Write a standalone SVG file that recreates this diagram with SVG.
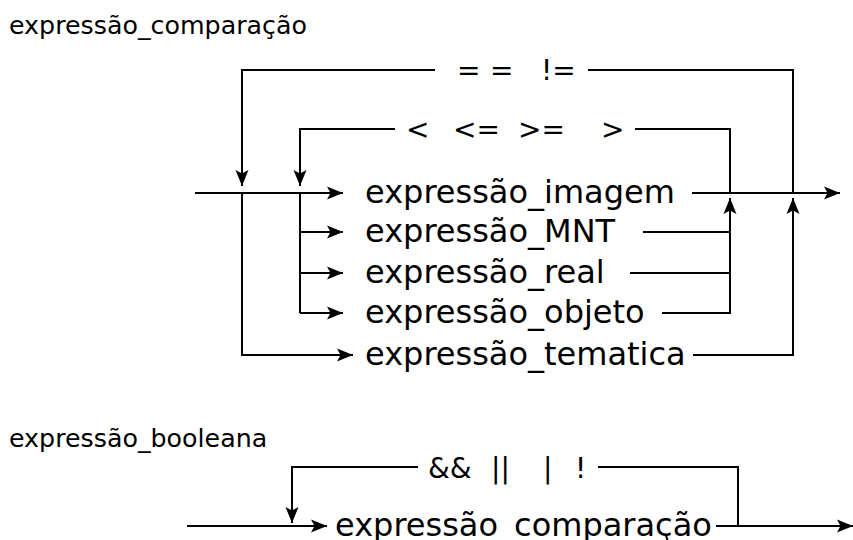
<svg xmlns="http://www.w3.org/2000/svg" width="853" height="540" viewBox="0 0 853 540">
<defs>
<marker id="ah" markerWidth="18" markerHeight="16" viewBox="-17 -8 18 16" refX="0" refY="0" orient="auto" markerUnits="userSpaceOnUse">
<path d="M0,0 L-16,-6.5 L-12.5,0 L-16,6.5 Z" fill="#000"/>
</marker>
</defs>
<style>
.t{font-family:"DejaVu Sans",sans-serif;fill:#000}
.title{font-size:25.3px}
.lbl{font-size:32px}
.op{font-size:28px}
.c{fill:none;stroke:#000;stroke-width:2}
</style>
<rect width="853" height="540" fill="#fff"/>
<g id="connectors">
<path class="c" d="M195,193 H343" marker-end="url(#ah)"/>
<path class="c" d="M793,193 V70 H588"/>
<path class="c" d="M435,70 H242 V186" marker-end="url(#ah)"/>
<path class="c" d="M730,193 V129 H635"/>
<path class="c" d="M395,129 H300 V186" marker-end="url(#ah)"/>
<path class="c" d="M300,193 V313"/>
<path class="c" d="M300,232 H343" marker-end="url(#ah)"/>
<path class="c" d="M300,273 H343" marker-end="url(#ah)"/>
<path class="c" d="M300,313 H343" marker-end="url(#ah)"/>
<path class="c" d="M242,193 V355 H353" marker-end="url(#ah)"/>
<path class="c" d="M692,193 H840" marker-end="url(#ah)"/>
<path class="c" d="M643,232 H730"/>
<path class="c" d="M630,273 H730"/>
<path class="c" d="M662,313 H730 V198" marker-end="url(#ah)"/>
<path class="c" d="M693,355 H793 V198" marker-end="url(#ah)"/>
<path class="c" d="M187,526 H327" marker-end="url(#ah)"/>
<path class="c" d="M738,526 V467 H598"/>
<path class="c" d="M418,467 H292 V523" marker-end="url(#ah)"/>
<path class="c" d="M716,526 H853" marker-end="url(#ah)"/>
</g>
<g id="title1"><text class="t title" x="9" y="34">expressão_comparação</text></g>
<g id="op_eq"><text class="t op" y="80"><tspan x="457">=</tspan><tspan x="490">=</tspan><tspan x="541">!=</tspan></text></g>
<g id="op_rel"><text class="t op" y="139"><tspan x="406">&lt;</tspan><tspan x="453">&lt;=</tspan><tspan x="518">&gt;=</tspan><tspan x="601">&gt;</tspan></text></g>
<g id="n_imagem"><text class="t lbl" x="365" y="203">expressão_imagem</text></g>
<g id="n_mnt"><text class="t lbl" x="365" y="242">expressão_MNT</text></g>
<g id="n_real"><text class="t lbl" x="365" y="283">expressão_real</text></g>
<g id="n_objeto"><text class="t lbl" x="365" y="323">expressão_objeto</text></g>
<g id="n_tematica"><text class="t lbl" x="365" y="365">expressão_tematica</text></g>
<g id="title2"><text class="t title" x="9" y="447">expressão_booleana</text></g>
<g id="op_bool"><text class="t op" y="478"><tspan x="428">&amp;&amp;</tspan><tspan x="491">||</tspan><tspan x="543">|</tspan><tspan x="575">!</tspan></text></g>
<g id="n_comparacao"><text class="t lbl" x="335" y="536">expressão_comparação</text></g>
</svg>
